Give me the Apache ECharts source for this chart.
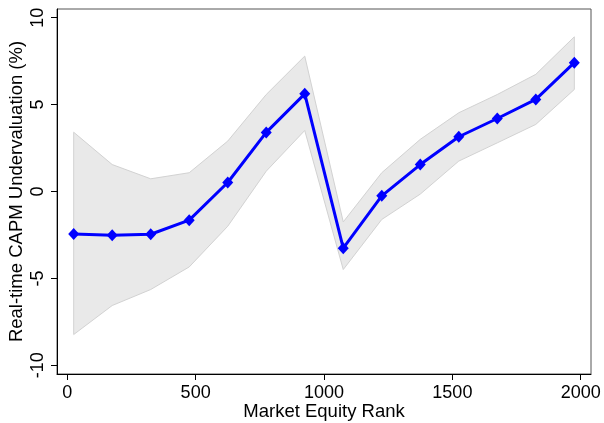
<!DOCTYPE html>
<html>
<head>
<meta charset="utf-8">
<script src="https://cdn.jsdelivr.net/npm/echarts@6/dist/echarts.min.js"></script>
<style>
    html, body { margin: 0; padding: 0; background: #fff; }
    #chart { width: 604px; height: 423px; }
</style>
</head>
<body>
<div id="chart"></div>
<script>
// market equity rank buckets (x) and estimates with confidence band
const ranks = [25, 175, 325, 475, 625, 775, 925, 1075, 1225, 1375, 1525, 1675, 1825, 1975];
const estimate = [-2.44, -2.51, -2.46, -1.65, 0.52, 3.4, 5.62, -3.26, -0.25, 1.55, 3.15, 4.2, 5.3, 7.41];
const upper = [3.41, 1.55, 0.73, 1.08, 2.9, 5.58, 7.79, -1.75, 1.08, 3.0, 4.53, 5.58, 6.74, 8.9];
const lower = [-8.23, -6.56, -5.64, -4.34, -2.0, 1.17, 3.51, -4.49, -1.61, -0.15, 1.75, 2.8, 3.86, 5.87];
const xTicks = [0, 500, 1000, 1500, 2000];
const yTicks = [-10, -5, 0, 5, 10];

const font = 'Liberation Sans, Arial, Helvetica, sans-serif';

const chart = echarts.init(document.getElementById('chart'));
chart.setOption({
    backgroundColor: '#fff',
    animation: false,
    grid: {
        left: 57,
        right: 13,
        top: 9,
        bottom: 49,
        outerBoundsMode: 'none',
        show: true,
        borderColor: '#555',
        borderWidth: 1
    },
    xAxis: {
        type: 'value',
        min: -40,
        max: 2040,
        name: 'Market Equity Rank',
        nameLocation: 'middle',
        nameGap: 28,
        nameMoveOverlap: false,
        nameTextStyle: { fontSize: 18.5, color: '#000', fontFamily: font },
        splitLine: { show: false },
        axisLine: { onZero: false, lineStyle: { color: '#000', width: 1 } },
        axisTick: { length: 6, customValues: xTicks, lineStyle: { color: '#000' } },
        axisLabel: {
            customValues: xTicks,
            formatter: v => String(v),
            margin: 10,
            fontSize: 18,
            color: '#000',
            fontFamily: font
        }
    },
    yAxis: {
        type: 'value',
        min: -10.5,
        max: 10.5,
        name: 'Real-time CAPM Undervaluation (%)',
        nameLocation: 'middle',
        nameGap: 31,
        nameMoveOverlap: false,
        nameTextStyle: { fontSize: 18.5, color: '#000', fontFamily: font },
        splitLine: { show: false },
        axisLine: { show: true, onZero: false, lineStyle: { color: '#000', width: 1 } },
        axisTick: { show: true, length: 6, customValues: yTicks, lineStyle: { color: '#000' } },
        axisLabel: {
            customValues: yTicks,
            formatter: v => String(v),
            rotate: 90,
            margin: 10,
            fontSize: 18,
            color: '#000',
            fontFamily: font
        }
    },
    series: [
        {
            // confidence band polygon, drawn once through the axis scales
            type: 'custom',
            data: ranks.map((x, i) => [x, lower[i], upper[i]]),
            z: 1,
            silent: true,
            renderItem: function (params, api) {
                if (params.dataIndex !== 0) {
                    return null;
                }
                const pts = [];
                for (let i = 0; i < ranks.length; i++) {
                    pts.push(api.coord([ranks[i], upper[i]]));
                }
                for (let i = ranks.length - 1; i >= 0; i--) {
                    pts.push(api.coord([ranks[i], lower[i]]));
                }
                return {
                    type: 'polygon',
                    shape: { points: pts },
                    style: { fill: '#e9e9e9', stroke: '#d2d2d2', lineWidth: 1 }
                };
            }
        },
        {
            type: 'line',
            data: ranks.map((x, i) => [x, estimate[i]]),
            z: 3,
            symbol: 'diamond',
            symbolSize: [11, 12],
            lineStyle: { color: '#0000ff', width: 3 },
            itemStyle: { color: '#0000ff' }
        }
    ]
});
</script>
</body>
</html>
